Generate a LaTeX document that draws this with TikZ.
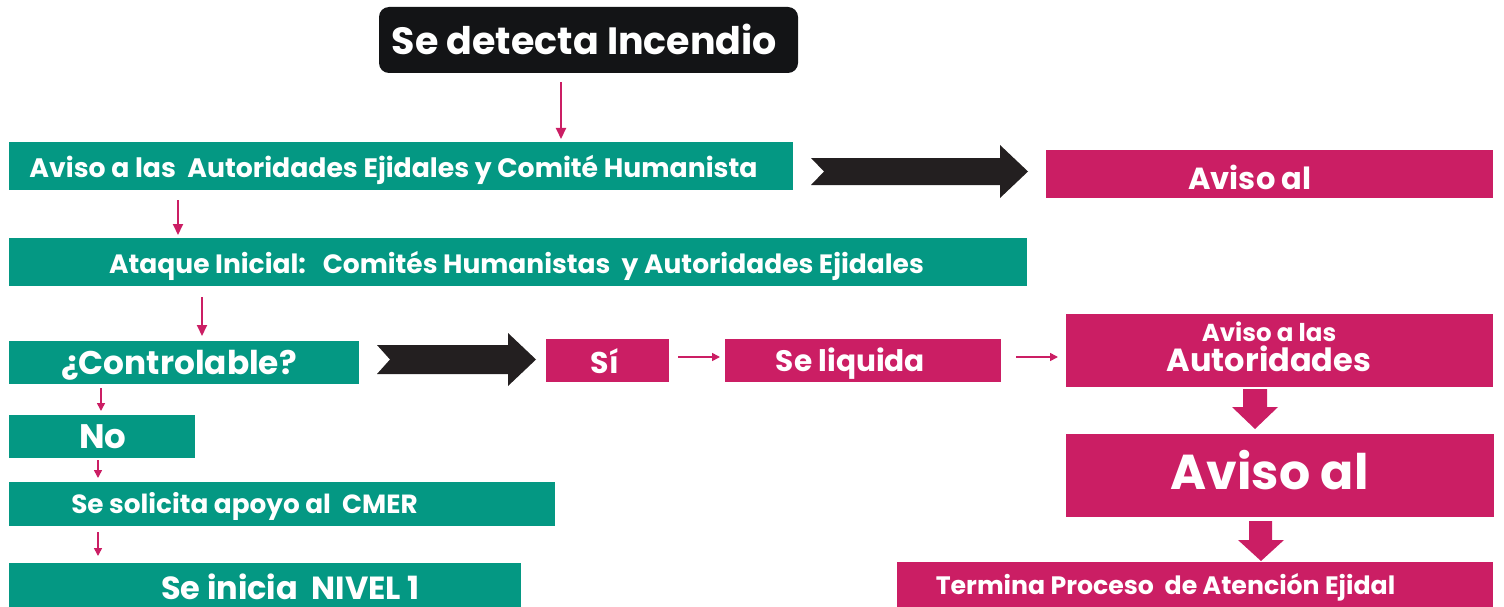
\documentclass[tikz,border=0pt]{standalone}
\usepackage{fontspec}
\setmainfont{Poppins}
\usetikzlibrary{calc,arrows.meta}
\definecolor{tealc}{HTML}{049883}
\definecolor{magc}{HTML}{CB1E64}
\definecolor{inkc}{HTML}{131416}
\definecolor{chevc}{HTML}{231F20}
\newcommand{\fsz}[1]{\fontsize{#1}{#1}\selectfont\bfseries}
\begin{document}
\begin{tikzpicture}[x=1pt,y=-1pt,
  tbox/.style={fill=tealc,inner sep=0pt,outer sep=0pt},
  mbox/.style={fill=magc,inner sep=0pt,outer sep=0pt},
  txt/.style={text=white,inner sep=0pt,anchor=base},
  marrow/.style={draw=magc,line width=2pt,-{Triangle[width=10pt,length=11pt]}},
  sarrow/.style={draw=magc,line width=1.6pt,-{Triangle[width=8pt,length=8pt]}},
  chevron/.style={fill=chevc},
  fatarrow/.style={fill=magc}]
\useasboundingbox (0,0) rectangle (1504,607);
% boxes
\node[fill=inkc,rounded corners=10pt,inner sep=0pt,minimum width=419pt,minimum height=66pt] (top) at (588.5,40) {};
\node[tbox,minimum width=784pt,minimum height=48pt] (A) at (401,166) {};
\node[mbox,minimum width=447pt,minimum height=48pt] (av1) at (1269.5,174) {};
\node[tbox,minimum width=1018pt,minimum height=48pt] (B) at (518,262) {};
\node[tbox,minimum width=350pt,minimum height=43pt] (ctrl) at (184,362.5) {};
\node[mbox,minimum width=123pt,minimum height=43pt] (si) at (607.5,360.5) {};
\node[mbox,minimum width=276pt,minimum height=43pt] (liq) at (863,360.5) {};
\node[mbox,minimum width=427pt,minimum height=73pt] (avaut) at (1279.5,350.5) {};
\node[mbox,minimum width=428pt,minimum height=83pt] (avbig) at (1280,475.5) {};
\node[mbox,minimum width=596pt,minimum height=45pt] (term) at (1195,584.5) {};
\node[tbox,minimum width=186pt,minimum height=43pt] (no) at (102,436.5) {};
\node[tbox,minimum width=546pt,minimum height=44pt] (sol) at (282,504) {};
\node[tbox,minimum width=512pt,minimum height=44pt] (ini) at (265,585) {};
% texts
\node[txt] (ttop) at (584.5,55) {\fsz{38}Se detecta Incendio};
\node[txt] (tA) at (393.5,177) {\fsz{26.7}Aviso a las\ \ Autoridades Ejidales y Comité Humanista};
\node[txt] (tav1) at (1250,189) {\fsz{30.5}Aviso al};
\node[txt] (tB) at (516.5,273) {\fsz{26.5}Ataque Inicial:\ \ \ Comités Humanistas\ \ y Autoridades Ejidales};
\node[txt] (tctrl) at (179,374) {\fsz{32.8}¿Controlable?};
\node[txt] (tsi) at (605,373) {\fsz{30}Sí};
\node[txt] (tliq) at (850.5,371) {\fsz{29.6}Se liquida};
\node[txt] (tav2a) at (1269,341) {\fsz{24.5}Aviso a las};
\node[txt] (tav2b) at (1269,371) {\fsz{32}Autoridades};
\node[txt] (tavbig) at (1269.5,489) {\fsz{49}Aviso al};
\node[txt] (tterm) at (1165.5,594) {\fsz{25.2}Termina Proceso\ \ de Atención Ejidal};
\node[txt] (tno) at (103,448) {\fsz{34}No};
\node[txt] (tsol) at (244.5,513) {\fsz{26.3}Se solicita apoyo al\ \ CMER};
\node[txt] (tini) at (290.5,599) {\fsz{32}Se inicia\ \ NIVEL 1};
% thin arrows
\draw[marrow,shorten >=3pt] ($(top.south)+(-27.5,9)$) coordinate (s1) -- (s1 |- A.north);
\draw[marrow,shorten >=3pt] ($(A.south west)+(169,10)$) coordinate (s2) -- (s2 |- B.north);
\draw[marrow,shorten >=5pt] ($(B.south west)+(193,11)$) coordinate (s3) -- (s3 |- ctrl.north);
\draw[sarrow,shorten >=4pt] ($(ctrl.south west)+(92,4)$) coordinate (s4) -- (s4 |- no.north);
\draw[sarrow,shorten >=4pt] ($(no.south west)+(89,2)$) coordinate (s5) -- (s5 |- sol.north);
\draw[sarrow,shorten >=7pt] ($(sol.south west)+(89,6)$) coordinate (s6) -- (s6 |- ini.north);
\draw[sarrow,shorten >=5pt,shorten <=9pt] ($(si.east)+(0,-3.5)$) coordinate (s7) -- (s7 -| liq.west);
\draw[sarrow,shorten >=8pt,shorten <=15pt] ($(liq.east)+(0,-3.5)$) coordinate (s8) -- (s8 -| avaut.west);
% chevrons
\fill[chevron] (811,158) -- (1000,158) -- (1000,145) -- (1028,171.5) -- (1000,198) -- (1000,185) -- (811,185) -- (824,171.5) -- cycle;
\fill[chevron] (377,345) -- (508,345) -- (508,333) -- (536,359.5) -- (508,386) -- (508,374) -- (377,374) -- (390,359.5) -- cycle;
% fat arrows
\fill[fatarrow] (1243,389) -- (1267,389) -- (1267,407) -- (1278,407) -- (1255,429) -- (1232,407) -- (1243,407) -- cycle;
\fill[fatarrow] (1249,521) -- (1272,521) -- (1272,540) -- (1284,540) -- (1261,561) -- (1238,540) -- (1249,540) -- cycle;
\end{tikzpicture}
\end{document}
